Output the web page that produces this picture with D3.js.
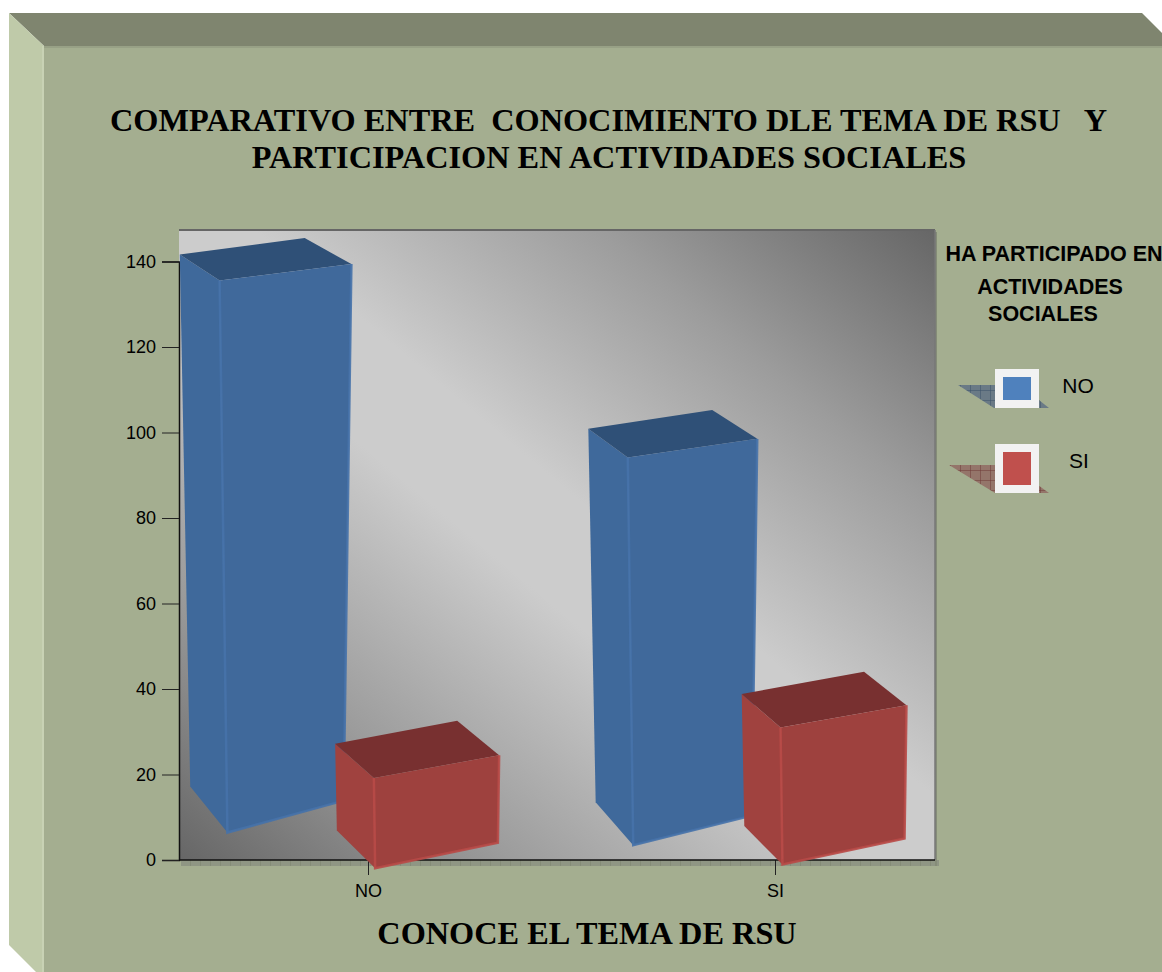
<!DOCTYPE html>
<html>
<head>
<meta charset="utf-8">
<script src="https://cdn.jsdelivr.net/npm/d3@7"></script>
<style>
  html, body { margin: 0; padding: 0; background: #fff; }
  svg { display: block; }
  .serif { font-family: "Liberation Serif", serif; font-weight: bold; fill: #000; }
  .sans { font-family: "Liberation Sans", sans-serif; fill: #000; }
</style>
</head>
<body>
<svg id="chart" width="1162" height="972"></svg>
<script>
var titleLines = ["COMPARATIVO ENTRE  CONOCIMIENTO DLE TEMA DE RSU   Y", "PARTICIPACION EN ACTIVIDADES SOCIALES"];
var xTitle = "CONOCE EL TEMA DE RSU";
var legendTitle = ["HA PARTICIPADO EN", "ACTIVIDADES", "SOCIALES"];
var categories = ["NO", "SI"];
var seriesNames = ["NO", "SI"];
var valuesNo = [141, 99];
var valuesSi = [23, 35];
var yTicks = [0, 20, 40, 60, 80, 100, 120, 140];

var width = 1162,
    height = 972;

var plot = {left: 179, right: 935, top: 230, bottom: 860};

var svg = d3.select("#chart");
var defs = svg.append("defs");

var yScale = d3.scaleLinear()
    .domain([0, 140])
    .range([plot.bottom, 261.5]);

// the category axis runs past the plot frame in the original
var xScale = d3.scalePoint()
    .domain(categories)
    .range([368, 775]);

var seriesScale = d3.scalePoint()
    .domain(seriesNames)
    .range([-82.5, 68.5]);

var colors = {
    NO: {front: "#40699b", side: "#3f699b", top: "#2f5077", edge: "#4672aa"},
    SI: {front: "#9e413e", side: "#a0423f", top: "#783030", edge: "#b84a47"}
};

// frame
svg.append("polygon").attr("points", "9,13 1142,13 1175,46 44,46").attr("fill", "#7f856f");
svg.append("polygon").attr("points", "9,13 44,46 44,972 36,972 9,945").attr("fill", "#bfcaa9");
svg.append("polygon").attr("points", "44,46 1175,46 1175,972 44,972").attr("fill", "#a4ae90");
svg.append("line").attr("x1", 44).attr("x2", 1162).attr("y1", 47).attr("y2", 47).attr("stroke", "#98a186").attr("stroke-width", 2);
svg.append("line").attr("x1", 43).attr("x2", 43).attr("y1", 46).attr("y2", 972).attr("stroke", "#c8d2b4").attr("stroke-width", 2);

// plot background, light band runs from the top left to the bottom right corner
var grad = defs.append("linearGradient")
    .attr("id", "plotBg")
    .attr("gradientUnits", "userSpaceOnUse")
    .attr("x1", 247).attr("y1", 917)
    .attr("x2", 867).attr("y2", 173);
grad.append("stop").attr("offset", "0").attr("stop-color", "#666");
grad.append("stop").attr("offset", "0.22").attr("stop-color", "#9c9c9c");
grad.append("stop").attr("offset", "0.45").attr("stop-color", "#ccc");
grad.append("stop").attr("offset", "0.55").attr("stop-color", "#ccc");
grad.append("stop").attr("offset", "0.78").attr("stop-color", "#9c9c9c");
grad.append("stop").attr("offset", "1").attr("stop-color", "#666");

var hatch = defs.append("pattern")
    .attr("id", "stripHatch")
    .attr("patternUnits", "userSpaceOnUse")
    .attr("width", 10).attr("height", 6);
hatch.append("rect").attr("width", 10).attr("height", 6).attr("fill", "#8f9684");
hatch.append("rect").attr("width", 1).attr("height", 6).attr("fill", "#858c78");

svg.append("rect")
    .attr("x", plot.left + 2).attr("y", plot.bottom)
    .attr("width", plot.right - plot.left + 2).attr("height", 6)
    .attr("fill", "url(#stripHatch)");
svg.append("rect")
    .attr("x", plot.right).attr("y", plot.top + 2)
    .attr("width", 2).attr("height", plot.bottom - plot.top + 4)
    .attr("fill", "#858c78");

svg.append("rect")
    .attr("x", plot.left).attr("y", plot.top)
    .attr("width", plot.right - plot.left).attr("height", plot.bottom - plot.top)
    .attr("fill", "url(#plotBg)");
svg.append("line")
    .attr("x1", plot.left).attr("x2", plot.right)
    .attr("y1", plot.top).attr("y2", plot.top)
    .attr("stroke", "#666").attr("stroke-width", 2);
svg.append("line")
    .attr("x1", plot.right).attr("x2", plot.right)
    .attr("y1", plot.top).attr("y2", plot.bottom)
    .attr("stroke", "#777").attr("stroke-width", 1.5);

// axes
var yAxis = d3.axisLeft(yScale).tickValues(yTicks).tickSize(17).tickPadding(6);
var xAxis = d3.axisBottom(xScale).tickSize(15).tickPadding(9);

var gy = svg.append("g")
    .attr("transform", "translate(" + plot.left + ",0)")
    .call(yAxis);
var gx = svg.append("g")
    .attr("transform", "translate(0," + plot.bottom + ")")
    .call(xAxis);
gx.select(".domain").remove();
svg.append("line")
    .attr("x1", plot.left).attr("x2", plot.right)
    .attr("y1", plot.bottom).attr("y2", plot.bottom)
    .attr("stroke", "#111").attr("stroke-width", 1.5);
gy.select(".domain").attr("stroke", "#111").attr("stroke-width", 1.5);
[gx, gy].forEach(function(g) {
    g.selectAll("text")
        .attr("class", "sans")
        .style("font-size", "18px")
        .style("font-family", "'Liberation Sans', sans-serif");
    g.selectAll(".tick line").attr("stroke", "#222");
});

// bars: every bar is a flat rect tilted in 3D about its own middle
var barWidth = 124,
    persp = 0.00023,
    skew = 0.195;

var bars = [];
categories.forEach(function(cat, i) {
    bars.push({cat: cat, series: "NO", value: valuesNo[i]});
    bars.push({cat: cat, series: "SI", value: valuesSi[i]});
});

function corner(d, side, end, back) {
    var yTop = yScale(d.value * 0.98) + 3,
        yBot = yScale(d.value * 0.077) + 3,
        cy = (yTop + yBot) / 2,
        b = end * (yBot - yTop) / 2,
        a = side * barWidth / 2,
        cx = xScale(d.cat) + seriesScale(d.series);
    var x = cx + a * (1 + persp * b),
        y = cy - b - a * (skew - persp * b);
    if (back) {
        x += -38.5 - 0.005 * b - (side + 1) / 2 * (2.5 + 0.016 * b);
        y += -(36 - 0.0368 * b);
    }
    return [x, y];
}

var line = d3.line();

var barG = svg.selectAll("g.bar")
    .data(bars)
    .enter().append("g")
    .attr("class", "bar");

// left face
barG.append("path")
    .attr("fill", function(d) { return colors[d.series].side; })
    .attr("d", function(d) {
        return line([corner(d, -1, 1, true), corner(d, -1, 1, false), corner(d, -1, -1, false), corner(d, -1, -1, true)]) + "Z";
    });
// top face
barG.append("path")
    .attr("fill", function(d) { return colors[d.series].top; })
    .attr("d", function(d) {
        return line([corner(d, -1, 1, true), corner(d, 1, 1, true), corner(d, 1, 1, false), corner(d, -1, 1, false)]) + "Z";
    });
// front face
barG.append("path")
    .attr("fill", function(d) { return colors[d.series].front; })
    .attr("d", function(d) {
        return line([corner(d, -1, 1, false), corner(d, 1, 1, false), corner(d, 1, -1, false), corner(d, -1, -1, false)]) + "Z";
    });
// lit edges of the front face
barG.append("path")
    .attr("fill", "none")
    .attr("stroke", function(d) { return colors[d.series].edge; })
    .attr("stroke-width", 2.5)
    .attr("stroke-opacity", 0.9)
    .attr("d", function(d) {
        return line([corner(d, -1, 1, false), corner(d, -1, -1, false), corner(d, 1, -1, false), corner(d, 1, 1, false)]);
    });

// titles
svg.selectAll("text.title")
    .data(titleLines)
    .enter().append("text")
    .attr("class", "serif title")
    .attr("x", function(d, i) { return i == 0 ? 608.5 : 609; })
    .attr("y", function(d, i) { return 131 + i * 37; })
    .attr("text-anchor", "middle")
    .style("white-space", "pre")
    .attr("xml:space", "preserve")
    .style("font-size", "32.3px")
    .text(function(d) { return d; });

svg.append("text")
    .attr("class", "serif")
    .attr("x", 587).attr("y", 944)
    .attr("text-anchor", "middle")
    .style("font-size", "32.3px")
    .text(xTitle);

// legend
var legendTitleX = [1054, 1050, 1043];
var legendTitleY = [261, 294, 321];
svg.selectAll("text.legend-title")
    .data(legendTitle)
    .enter().append("text")
    .attr("class", "sans legend-title")
    .attr("x", function(d, i) { return legendTitleX[i]; })
    .attr("y", function(d, i) { return legendTitleY[i]; })
    .attr("text-anchor", "middle")
    .style("font-size", "21.5px")
    .style("font-weight", "bold")
    .text(function(d) { return d; });

var legendRows = [
    {name: seriesNames[0], y: 369, h: 39, shadow: "958,385 1020,385 1049,408 994,408", base: "#6a7a86", lines: "#3a5068", fill: "#4f81bd", tx: 1078},
    {name: seriesNames[1], y: 444, h: 49, shadow: "949,465 1010,465 1049,493 995,493", base: "#94756a", lines: "#6f3835", fill: "#c0504d", tx: 1079}
];

legendRows.forEach(function(r, i) {
    var p = defs.append("pattern")
        .attr("id", "shadowHatch" + i)
        .attr("patternUnits", "userSpaceOnUse")
        .attr("width", 10).attr("height", 10);
    p.append("rect").attr("width", 10).attr("height", 10).attr("fill", r.base);
    p.append("path").attr("d", "M0,0H10M0,0V10").attr("stroke", r.lines).attr("stroke-width", 1);
    svg.append("polygon").attr("points", r.shadow).attr("fill", "url(#shadowHatch" + i + ")");
    svg.append("rect").attr("x", 995).attr("y", r.y).attr("width", 44).attr("height", r.h).attr("fill", "#f2f2f2");
    svg.append("rect").attr("x", 1003).attr("y", r.y + 8).attr("width", 28).attr("height", r.h - 16).attr("fill", r.fill);
    svg.append("text")
        .attr("class", "sans")
        .attr("x", r.tx).attr("y", r.y + 24)
        .attr("text-anchor", "middle")
        .style("font-size", "21px")
        .text(r.name);
});
</script>
</body>
</html>
